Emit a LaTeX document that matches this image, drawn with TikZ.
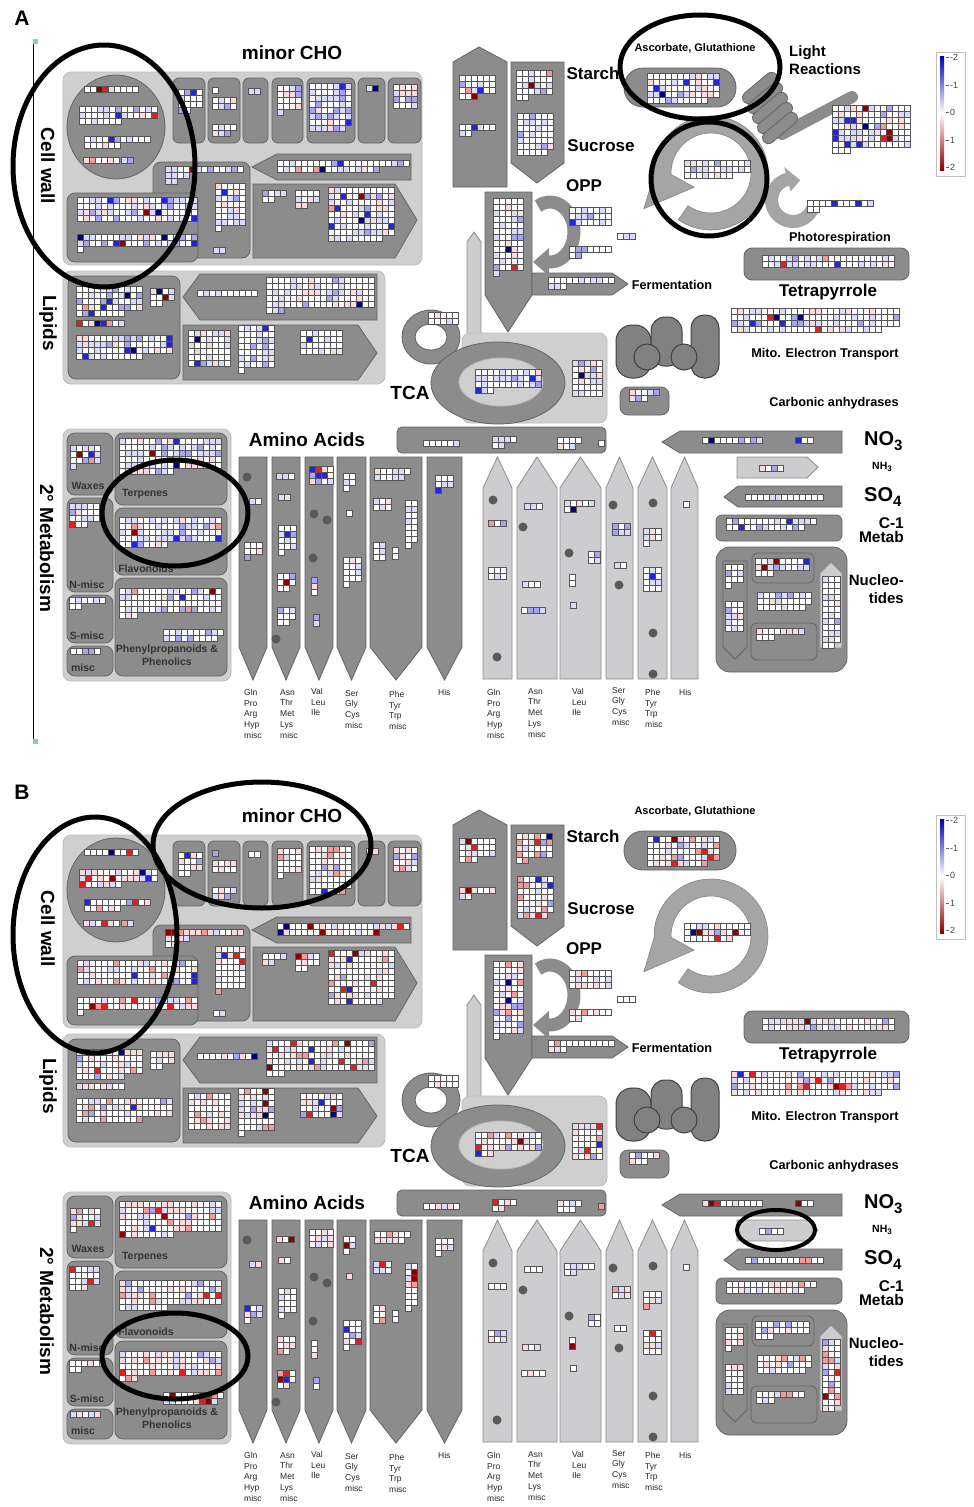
\documentclass[tikz,border=0pt]{standalone}
\usepackage{fontspec}
\setmainfont{Liberation Sans}

\definecolor{mmdark}{RGB}{140,140,140}
\definecolor{mmline}{RGB}{100,100,100}
\definecolor{mmlight}{RGB}{207,207,207}
\definecolor{mmlightline}{RGB}{188,188,188}
\definecolor{mmring}{RGB}{165,165,165}
\definecolor{aafill}{RGB}{205,205,208}
\definecolor{hmline}{RGB}{85,85,85}
\definecolor{hmbA}{RGB}{218,218,250}
\definecolor{hmrA}{RGB}{250,218,218}
\definecolor{hmbB}{RGB}{165,165,242}
\definecolor{hmrB}{RGB}{242,155,155}
\definecolor{hmbC}{RGB}{35,35,230}
\definecolor{hmrC}{RGB}{232,28,28}
\definecolor{hmbD}{RGB}{0,0,125}
\definecolor{hmrD}{RGB}{140,0,0}
\definecolor{markgreen}{RGB}{140,210,160}

% colour of one heat map cell, thresholds set per panel
\newcommand\pickcol{%
  \pgfmathrandominteger{\rr}{1}{1000}%
  \ifnum\rr<\tA\relax\def\cellcol{white}%
  \else\ifnum\rr<\tB\relax\def\cellcol{hmbA}%
  \else\ifnum\rr<\tC\relax\def\cellcol{hmrA}%
  \else\ifnum\rr<\tD\relax\def\cellcol{hmbB}%
  \else\ifnum\rr<\tE\relax\def\cellcol{hmrB}%
  \else\ifnum\rr<\tF\relax\def\cellcol{hmbC}%
  \else\ifnum\rr<\tG\relax\def\cellcol{hmrC}%
  \else\ifnum\rr<\tH\relax\def\cellcol{hmbD}%
  \else\def\cellcol{hmrD}\fi\fi\fi\fi\fi\fi\fi\fi}

% heat map block: x, y, columns, rows, cells in last row
\newcommand\hm[5]{%
  \foreach \hr in {1,...,#4}{%
    \ifnum\hr=#4\relax\edef\hn{#5}\else\edef\hn{#3}\fi
    \foreach \hc in {1,...,\hn}{%
      \pickcol
      \filldraw[hmcell,fill=\cellcol] ({#1+6*(\hc-1)},{#2+6*(\hr-1)}) rectangle ++(6,6);
    }%
  }%
}

% one MapMan overview: suffix, y offset, light reactions shown
\newcommand\mmpanel[3]{%
\begin{scope}[shift={(0,#2)}]
  %%%%% cell wall, minor CHO
  \filldraw[lightbox, rounded corners=8pt] (63,72) rectangle (422,265);
  \filldraw[darkbox] (116,127) ellipse (49 and 52);
  \filldraw[darkbox, rounded corners=8pt] (153,162) rectangle (250,258);
  \filldraw[darkbox, rounded corners=8pt] (67,193) rectangle (198,262);
  \filldraw[darkbox] (252,167) -- (277,154) -- (411,154) -- (411,180) -- (277,180) -- cycle;
  \filldraw[darkbox] (253,184) -- (395,184) -- (417,220) -- (395,258) -- (253,258) -- cycle;
  \foreach \xa/\xb in {173/205,208/240,243/268,272/303,307/355,358/385,388/421}
    \filldraw[darkbox, rounded corners=6pt] (\xa,78) rectangle (\xb,143);
  %%%%% lipids
  \filldraw[lightbox, rounded corners=8pt] (63,271) rectangle (385,384);
  \filldraw[darkbox, rounded corners=8pt] (68,276) rectangle (180,379);
  \filldraw[darkbox] (183,297) -- (200,274) -- (377,274) -- (377,320) -- (200,320) -- cycle;
  \filldraw[darkbox] (183,325) -- (358,325) -- (377,353) -- (358,380) -- (183,380) -- cycle;
  %%%%% secondary metabolism
  \filldraw[lightbox, rounded corners=8pt] (63,429) rectangle (231,681);
  \foreach \xa/\ya/\xb/\yb in {67/433/113/495,115/433/227/505,67/498/113/592,115/508/227/575,67/595/113/643,67/646/113/676,115/578/227/676}
    \filldraw[darkbox, rounded corners=8pt] (\xa,\ya) rectangle (\xb,\yb);
  %%%%% amino acids
  \foreach \xa/\xb in {239/267,272/300,305/333,337/366,370/422,427/462}
    \filldraw[darkbox] (\xa,457) -- (\xb,457) -- (\xb,647) -- ({(\xa+\xb)/2},680) -- (\xa,647) -- cycle;
  \foreach \xa/\xb in {483/512,517/557,560/601,606/633,638/667,671/698}
    \filldraw[aabox] (\xa,679) -- (\xa,488) -- ({(\xa+\xb)/2},457) -- (\xb,488) -- (\xb,679) -- cycle;
  \filldraw[darkbox, rounded corners=5pt] (397,427) rectangle (606,453);
  %%%%% N, S, C1, nucleotides
  \filldraw[darkbox] (662,442) -- (680,431) -- (842,431) -- (842,453) -- (680,453) -- cycle;
  \filldraw[aabox] (737,457) -- (807,457) -- (818,467) -- (807,478) -- (737,478) -- cycle;
  \filldraw[darkbox] (724,497) -- (738,486) -- (842,486) -- (842,507) -- (738,507) -- cycle;
  \filldraw[darkbox, rounded corners=6pt] (716,515) rectangle (842,541);
  \filldraw[darkbox, rounded corners=14pt] (716,547) rectangle (847,672);
  \filldraw[darkbox] (723,561) -- (747,561) -- (747,647) -- (735,659) -- (723,647) -- cycle;
  \filldraw[darkbox, rounded corners=6pt] (752,553) rectangle (814,583);
  \filldraw[darkbox, rounded corners=6pt] (751,623) rectangle (817,660);
  \filldraw[aabox] (820,648) -- (820,573) -- (831,562) -- (842,573) -- (842,648) -- cycle;
  %%%%% starch, sucrose
  \filldraw[darkbox] (453,62) -- (479,47) -- (507,62) -- (507,187) -- (453,187) -- cycle;
  \filldraw[darkbox] (511,62) -- (564,62) -- (564,163) -- (537,183) -- (511,163) -- cycle;
  %%%%% OPP, fermentation
  \filldraw[aabox] (467,340) -- (467,242) -- (474,232) -- (481,242) -- (481,340) -- cycle;
  \filldraw[darkbox] (485,192) -- (532,192) -- (532,295) -- (508,332) -- (485,295) -- cycle;
  \filldraw[darkbox] (532,273) -- (612,273) -- (628,284) -- (612,295) -- (532,295) -- cycle;
  \begin{scope}[shift={(550,232)}, yscale=-1]
    \draw[mmdark, line width=13pt] (120:24 and 30) arc[start angle=120, end angle=-95, x radius=24, y radius=30];
    \fill[mmdark] (-1,-16) -- (-1,-44) -- (-17,-30) -- cycle;
  \end{scope}
  %%%%% TCA
  \filldraw[darkbox, even odd rule] (431,337) ellipse (29 and 27) (431,337) ellipse (16 and 13);
  \filldraw[lightbox, rounded corners=8pt] (462,333) rectangle (607,423);
  \filldraw[darkbox] (498,383) ellipse (67 and 41);
  \filldraw[lightbox] (501,382) ellipse (42 and 24);
  %%%%% mitochondrion
  \filldraw[mitobox, rounded corners=16pt] (616,325) rectangle (651,378);
  \filldraw[mitobox, rounded corners=14pt] (651,317) rectangle (682,366);
  \filldraw[mitobox, rounded corners=13pt] (691,315) rectangle (719,378);
  \filldraw[mitobox] (647,357) circle (13);
  \filldraw[mitobox] (684,357) circle (13);
  \filldraw[darkbox, rounded corners=8pt] (620,387) rectangle (669,415);
  %%%%% ascorbate, Calvin cycle, tetrapyrrole
  \filldraw[darkbox, rounded corners=19pt] (624,68) rectangle (736,107);
  \begin{scope}[shift={(711,173)}, yscale=-1]
    \filldraw[ringbox] (235:57) arc[start angle=235, end angle=542, radius=57] -- (568:76) -- (580:22) -- (542:40) arc[start angle=542, end angle=235, radius=40] -- cycle;
  \end{scope}
  \filldraw[darkbox, rounded corners=8pt] (744,248) rectangle (909,280);
  %%%%% light reactions, photorespiration
  \ifnum#3=1
    \draw[mmdark, line width=12pt, line cap=round] (782,134) -- (852,97);
    \foreach \i in {0,...,4}
      \filldraw[darkbox, rounded corners=6pt, rotate around={40:(760+5*\i,88+10*\i)}] ({739+5*\i},{82+10*\i}) rectangle ++(42,12);
    \begin{scope}[shift={(793,200)}, yscale=-1]
      \fill[mmring] (105:28) arc[start angle=105, end angle=345, radius=28] -- (345:15) arc[start angle=345, end angle=105, radius=15] -- (105:9) -- (70:21) -- (105:34) -- cycle;
    \end{scope}
  \fi
  %%%%% legend
  \filldraw[draw=black!25, fill=white] (936,52) rectangle (965,176);
  \shade[top color=hmbD!60!blue, bottom color=white] (940,56) rectangle (944,113);
  \shade[top color=white, bottom color=hmrD] (940,113) rectangle (944,170);
  \foreach \v/\yy [count=\k] in {-2/57,-1/85,0/112,1/140,2/167}{
    \draw[black!60] (946,\yy) -- (949,\yy);
    \node[leglbl] (leg\k#1) at (950,\yy) {\v};
  }
  %%%%% heat maps
  \hm{84}{86}{9}{1}{9}
  \hm{79}{106}{13}{3}{7}
  \hm{84}{136}{11}{2}{6}
  \hm{83}{157}{6}{1}{6}
  \hm{121}{157}{2}{1}{2}
  \hm{77}{197}{20}{4}{20}
  \hm{77}{234}{20}{3}{1}
  \hm{165}{166}{13}{1}{13}
  \hm{165}{172}{4}{2}{2}
  \hm{215}{183}{5}{8}{1}
  \hm{213}{247}{2}{1}{2}
  \hm{262}{190}{4}{2}{2}
  \hm{295}{190}{4}{3}{2}
  \hm{328}{187}{11}{9}{9}
  \hm{277}{160}{22}{2}{17}
  \hm{178}{89}{4}{4}{2}
  \hm{212}{87}{1}{1}{1}
  \hm{212}{97}{4}{2}{4}
  \hm{212}{124}{4}{2}{3}
  \hm{248}{88}{2}{1}{2}
  \hm{277}{85}{4}{5}{1}
  \hm{309}{83}{7}{8}{6}
  \hm{366}{85}{2}{1}{2}
  \hm{393}{84}{4}{4}{4}
  \hm{76}{286}{11}{5}{8}
  \hm{150}{288}{4}{3}{2}
  \hm{76}{320}{8}{1}{8}
  \hm{76}{335}{16}{4}{11}
  \hm{197}{290}{10}{1}{10}
  \hm{266}{277}{18}{6}{3}
  \hm{188}{330}{7}{6}{7}
  \hm{238}{325}{6}{8}{1}
  \hm{300}{330}{7}{4}{7}
  \hm{70}{445}{5}{4}{1}
  \hm{119}{438}{17}{6}{9}
  \hm{69}{503}{5}{4}{3}
  \hm{119}{517}{17}{5}{8}
  \hm{69}{597}{6}{2}{2}
  \hm{70}{648}{5}{1}{5}
  \hm{119}{588}{17}{5}{3}
  \hm{163}{629}{10}{2}{9}
  \hm{249}{498}{2}{1}{2}
  \hm{244}{542}{3}{3}{1}
  \hm{276}{473}{3}{1}{3}
  \hm{278}{494}{2}{1}{2}
  \hm{278}{525}{3}{5}{1}
  \hm{277}{573}{3}{3}{2}
  \hm{277}{607}{3}{3}{2}
  \hm{309}{466}{4}{3}{4}
  \hm{311}{577}{1}{3}{1}
  \hm{313}{614}{1}{2}{1}
  \hm{343}{473}{2}{3}{1}
  \hm{346}{510}{1}{1}{1}
  \hm{343}{557}{3}{5}{1}
  \hm{374}{468}{6}{2}{5}
  \hm{373}{498}{3}{2}{3}
  \hm{405}{500}{2}{8}{1}
  \hm{373}{542}{2}{3}{2}
  \hm{392}{547}{1}{2}{1}
  \hm{435}{475}{3}{3}{1}
  \hm{488}{520}{3}{1}{3}
  \hm{488}{567}{3}{2}{3}
  \hm{524}{503}{3}{1}{3}
  \hm{522}{581}{3}{1}{3}
  \hm{521}{607}{4}{1}{4}
  \hm{564}{500}{5}{2}{2}
  \hm{588}{551}{2}{2}{2}
  \hm{569}{574}{1}{2}{1}
  \hm{570}{602}{1}{1}{1}
  \hm{612}{523}{3}{2}{3}
  \hm{614}{562}{2}{1}{2}
  \hm{643}{528}{3}{3}{1}
  \hm{643}{567}{3}{4}{3}
  \hm{683}{501}{1}{1}{1}
  \hm{423}{440}{6}{1}{6}
  \hm{492}{436}{4}{2}{2}
  \hm{557}{437}{4}{2}{3}
  \hm{598}{440}{1}{1}{1}
  \hm{702}{437}{10}{1}{10}
  \hm{795}{437}{3}{1}{3}
  \hm{759}{465}{4}{1}{4}
  \hm{745}{494}{13}{1}{13}
  \hm{726}{518}{15}{2}{13}
  \hm{725}{564}{3}{4}{1}
  \hm{725}{601}{3}{5}{3}
  \hm{755}{558}{9}{3}{3}
  \hm{757}{592}{9}{3}{8}
  \hm{756}{628}{8}{2}{3}
  \hm{822}{576}{3}{12}{2}
  \hm{459}{75}{6}{4}{3}
  \hm{459}{124}{6}{2}{2}
  \hm{516}{70}{6}{5}{2}
  \hm{517}{113}{6}{7}{5}
  \hm{493}{198}{5}{13}{1}
  \hm{569}{207}{7}{3}{7}
  \hm{617}{233}{3}{1}{3}
  \hm{569}{246}{7}{2}{2}
  \hm{548}{277}{11}{2}{3}
  \hm{428}{312}{5}{2}{5}
  \hm{475}{369}{11}{4}{3}
  \hm{572}{360}{5}{6}{5}
  \hm{629}{389}{5}{2}{3}
  \hm{647}{73}{12}{5}{10}
  \hm{684}{160}{11}{3}{8}
  \hm{762}{255}{22}{2}{22}
  \hm{731}{308}{28}{4}{25}
  \ifnum#3=1
    \hm{832}{105}{13}{8}{3}
    \hm{807}{200}{11}{2}{2}
  \fi
  %%%%% dots in the amino acid arrows
  \foreach \xd/\yd in {247/477,276/639,314/514,327/520,313/558,493/500,497/657,523/527,569/553,613/505,619/585,653/503,653/633,653/674}
    \fill[aadot] (\xd,\yd) circle (4.5);
  %%%%% labels
  \node[hugelbl] (minorcho#1) at (292,53) {minor CHO};
  \node[hugelbl, rotate=-90] (cellwall#1) at (48,166) {Cell wall};
  \node[hugelbl, rotate=-90] (lipids#1) at (48,323) {Lipids};
  \node[hugelbl, rotate=-90] (secmet#1) at (47,548) {2° Metabolism};
  \node[biglbl] (starch#1) at (593,73) {Starch};
  \node[biglbl] (sucrose#1) at (601,146) {Sucrose};
  \node[biglbl] (opp#1) at (584,186) {OPP};
  \node[smlbl] (ferm#1) at (672,285) {Fermentation};
  \node[smlbl, font=\bfseries\fontsize{11}{11}\selectfont] (ascorb#1) at (695,48) {Ascorbate, Glutathione};
  \node[biglbl] (tetra#1) at (828,292) {Tetrapyrrole};
  \node[smlbl] (mito#1) at (825,354) {Mito. Electron Transport};
  \node[hugelbl] (tca#1) at (410,393) {TCA};
  \node[smlbl] (carbo#1) at (834,403) {Carbonic anhydrases};
  \node[hugelbl] (amino#1) at (307,440) {Amino Acids};
  \node[hugelbl, font=\bfseries\fontsize{20}{20}\selectfont, anchor=west] (no3#1) at (864,441) {NO\raisebox{-5pt}{\fontsize{15}{15}\selectfont 3}};
  \node[tinylbl, text=black, anchor=west] (nh3#1) at (872,467) {NH\raisebox{-2.5pt}{\fontsize{8}{8}\selectfont 3}};
  \node[hugelbl, font=\bfseries\fontsize{20}{20}\selectfont, anchor=west] (so4#1) at (864,497) {SO\raisebox{-5pt}{\fontsize{15}{15}\selectfont 4}};
  \node[medlbl, align=right, anchor=east] (c1#1) at (904,530) {C-1\\Metab};
  \node[medlbl, font=\bfseries\fontsize{15}{18}\selectfont, align=right, anchor=east] (nucleo#1) at (904,589) {Nucleo-\\tides};
  \ifnum#3=1
    \node[medlbl, font=\bfseries\fontsize{15}{18}\selectfont, align=left, anchor=west] (light#1) at (789,60) {Light\\Reactions};
    \node[smlbl] (photo#1) at (840,238) {Photorespiration};
  \fi
  \node[tinylbl] (waxes#1) at (88,486) {Waxes};
  \node[tinylbl] (terp#1) at (145,494) {Terpenes};
  \node[tinylbl] (nmisc#1) at (87,585) {N-misc};
  \node[tinylbl] (flav#1) at (146,569) {Flavonoids};
  \node[tinylbl] (smisc#1) at (87,636) {S-misc};
  \node[tinylbl] (misc#1) at (83,668) {misc};
  \node[tinylbl, font=\bfseries\fontsize{10.5}{13}\selectfont, align=center] (phenyl#1) at (167,655) {Phenylpropanoids \&\\Phenolics};
  \node[aalbl] (aaa#1) at (244,689) {Gln\\Pro\\Arg\\Hyp\\misc};
  \node[aalbl] (aab#1) at (280,689) {Asn\\Thr\\Met\\Lys\\misc};
  \node[aalbl] (aac#1) at (311,688) {Val\\Leu\\Ile};
  \node[aalbl] (aad#1) at (345,690) {Ser\\Gly\\Cys\\misc};
  \node[aalbl] (aae#1) at (389,691) {Phe\\Tyr\\Trp\\misc};
  \node[aalbl] (aaf#1) at (438,689) {His};
  \node[aalbl] (aag#1) at (487,689) {Gln\\Pro\\Arg\\Hyp\\misc};
  \node[aalbl] (aah#1) at (528,688) {Asn\\Thr\\Met\\Lys\\misc};
  \node[aalbl] (aai#1) at (572,688) {Val\\Leu\\Ile};
  \node[aalbl] (aaj#1) at (612,687) {Ser\\Gly\\Cys\\misc};
  \node[aalbl] (aak#1) at (645,689) {Phe\\Tyr\\Trp\\misc};
  \node[aalbl] (aal#1) at (679,689) {His};
\end{scope}}

\begin{document}
\begin{tikzpicture}[x=1pt, y=-1pt,
  darkbox/.style={fill=mmdark, draw=mmline, line width=0.8pt},
  lightbox/.style={fill=mmlight, draw=mmlightline, line width=0.8pt},
  aabox/.style={fill=aafill, draw=black!45, line width=0.8pt},
  mitobox/.style={fill=mmdark!92!black, draw=black!75, line width=1pt},
  ringbox/.style={fill=mmring, draw=mmline!80, line width=0.6pt},
  hmcell/.style={draw=hmline, line width=0.6pt},
  aadot/.style={fill=black!65},
  hilite/.style={draw=black, line width=5pt},
  hugelbl/.style={font=\bfseries\fontsize{19}{19}\selectfont, inner sep=0pt},
  biglbl/.style={font=\bfseries\fontsize{17}{17}\selectfont, inner sep=0pt},
  medlbl/.style={font=\bfseries\fontsize{15.5}{14}\selectfont, inner sep=0pt},
  smlbl/.style={font=\bfseries\fontsize{12.7}{13}\selectfont, inner sep=0pt},
  tinylbl/.style={font=\bfseries\fontsize{10.5}{11}\selectfont, inner sep=0pt, text=black!80},
  aalbl/.style={font=\fontsize{8.5}{10.8}\selectfont, align=left, anchor=north west, inner sep=0pt, text=black!85},
  leglbl/.style={font=\fontsize{9}{9}\selectfont, anchor=west, inner sep=0pt, text=black!75},
  panlbl/.style={font=\bfseries\fontsize{21}{21}\selectfont, inner sep=0pt}]
\useasboundingbox (0,0) rectangle (974,1507);
\fill[white] (0,0) rectangle (974,1507);

% panel A
\def\tA{600}\def\tB{805}\def\tC{875}\def\tD{940}\def\tE{952}\def\tF{978}\def\tG{984}\def\tH{992}
\pgfmathsetseed{4711}
\mmpanel{A}{0}{1}
% panel B
\def\tA{600}\def\tB{705}\def\tC{855}\def\tD{885}\def\tE{940}\def\tF{952}\def\tG{975}\def\tH{981}
\pgfmathsetseed{1234}
\mmpanel{B}{763}{0}

\node[panlbl] (panA) at (22,18) {A};
\node[panlbl] (panB) at (22,792) {B};
\draw[line width=1pt] (33,40) -- (33,742);
\fill[markgreen] (33,39) rectangle (38,44);
\fill[markgreen] (33,739) rectangle (38,744);

% highlights
\draw[hilite] (104,166) ellipse (91 and 121);
\draw[hilite] (700,67) ellipse (80 and 52);
\draw[hilite] (709,179) ellipse (58 and 57);
\draw[hilite] (175,513) ellipse (73 and 53);
\draw[hilite] (95,935) ellipse (82 and 118);
\draw[hilite] (262,845) ellipse (109 and 63);
\draw[hilite, line width=4pt] (776,1230) ellipse (39 and 20);
\draw[hilite] (175,1356) ellipse (73 and 43);
\end{tikzpicture}
\end{document}
